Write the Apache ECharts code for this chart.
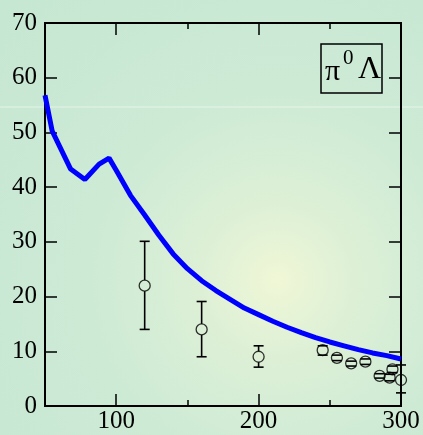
<!DOCTYPE html>
<html>
<head>
<meta charset="utf-8">
<script src="https://cdn.jsdelivr.net/npm/echarts@6/dist/echarts.min.js"></script>
<style>
  html, body { margin: 0; padding: 0; }
  #chart { width: 423px; height: 435px; }
</style>
</head>
<body>
<div id="chart"></div>
<script>
// theory curve
var curveX = [50, 55, 68, 78, 88, 95, 100, 110, 120, 130, 140, 150, 160, 170, 180, 190, 200, 210, 220, 230, 240, 250, 260, 270, 280, 290, 300];
var curveY = [56.8, 50.3, 43.3, 41.4, 44.2, 45.3, 43.1, 38.5, 34.9, 31.2, 27.8, 25.1, 22.9, 21.1, 19.5, 17.9, 16.7, 15.5, 14.4, 13.4, 12.5, 11.7, 11.0, 10.3, 9.7, 9.2, 8.6];
// measured points
var ptX  = [120, 160, 200, 245, 255, 265, 275, 285, 292, 294, 300];
var ptY  = [22.0, 14.0, 9.0, 10.2, 8.8, 7.8, 8.1, 5.5, 5.2, 6.7, 4.75];
var ptLo = [14.0, 9.0, 7.1, 9.3, 8.3, 7.3, 7.6, 5.1, 4.6, 6.1, 2.4];
var ptHi = [30.1, 19.1, 11.0, 11.0, 9.3, 8.2, 8.6, 5.9, 5.8, 7.3, 7.5];
var xLabels = [100, 200, 300];
var xMinor = [150, 250];

var serif = '"Liberation Serif", "Times New Roman", Times, "DejaVu Serif", serif';
var chart = echarts.init(document.getElementById('chart'));

var lineData = curveX.map(function (x, i) { return [x, curveY[i]]; });
var ptData = ptX.map(function (x, i) { return [x, ptY[i]]; });
var errData = ptX.map(function (x, i) { return [x, ptLo[i], ptHi[i], ptY[i]]; });

function renderErr(params, api) {
    var x = api.value(0);
    var c = api.coord([x, api.value(3)]);
    var lo = api.coord([x, api.value(1)]);
    var hi = api.coord([x, api.value(2)]);
    var r = 5.5, w = 5;
    var st = { stroke: '#000', lineWidth: 1.6 };
    var kids = [];
    if (hi[1] < c[1] - r) kids.push({ type: 'line', shape: { x1: c[0], y1: hi[1], x2: c[0], y2: c[1] - r }, style: st });
    if (lo[1] > c[1] + r) kids.push({ type: 'line', shape: { x1: c[0], y1: c[1] + r, x2: c[0], y2: lo[1] }, style: st });
    kids.push({ type: 'line', shape: { x1: c[0] - w, y1: hi[1], x2: c[0] + w, y2: hi[1] }, style: st });
    kids.push({ type: 'line', shape: { x1: c[0] - w, y1: lo[1], x2: c[0] + w, y2: lo[1] }, style: st });
    return { type: 'group', children: kids };
}

var axisLineStyle = { show: true, lineStyle: { color: '#000', width: 2 } };

function xAx(pos, ticks, len, labels) {
    return {
        type: 'value', position: pos, min: 50, max: 300, interval: 50,
        axisLine: axisLineStyle,
        splitLine: { show: false },
        axisTick: { show: true, inside: true, length: len, customValues: ticks, lineStyle: { color: '#000', width: 1.5 } },
        axisLabel: labels ? { show: true, customValues: xLabels, color: '#000', fontFamily: serif, fontSize: 25, margin: 3 } : { show: false }
    };
}

function yAx(pos, labels) {
    return {
        type: 'value', position: pos, min: 0, max: 70, interval: 10,
        axisLine: axisLineStyle,
        splitLine: { show: false },
        axisTick: { show: true, inside: true, length: 12, lineStyle: { color: '#000', width: 1.5 } },
        axisLabel: labels ? { show: true, color: '#000', fontFamily: serif, fontSize: 25, margin: 8 } : { show: false }
    };
}

option = {
    backgroundColor: new echarts.graphic.RadialGradient(0.655, 0.644, 0.9, [
        { offset: 0, color: '#f0f7d6' },
        { offset: 0.2, color: '#ddf0d6' },
        { offset: 0.5, color: '#cdead5' },
        { offset: 1, color: '#c6e7d2' }
    ]),
    animation: false,
    grid: { left: 45, right: 22, top: 23, bottom: 29 },
    xAxis: [
        xAx('bottom', xLabels, 12, true),
        xAx('bottom', xMinor, 6, false),
        xAx('top', xLabels, 12, false),
        xAx('top', xMinor, 6, false)
    ],
    yAxis: [yAx('left', true), yAx('right', false)],
    graphic: [
        { type: 'line', z: -10, shape: { x1: 0, y1: 107, x2: 423, y2: 107 }, style: { stroke: 'rgba(255,255,255,0.25)', lineWidth: 2 } },
        { type: 'rect', shape: { x: 321, y: 44, width: 61, height: 49 }, style: { fill: 'transparent', stroke: '#000', lineWidth: 1.5 } },
        { type: 'text', x: 325, y: 72, style: { text: 'π', fontFamily: serif, fontSize: 30, fill: '#000', verticalAlign: 'middle' } },
        { type: 'text', x: 343, y: 58, style: { text: '0', fontFamily: serif, fontSize: 21, fill: '#000', verticalAlign: 'middle' } },
        { type: 'text', x: 358, y: 70, style: { text: 'Λ', fontFamily: serif, fontSize: 32, fill: '#000', verticalAlign: 'middle' } }
    ],
    series: [
        {
            type: 'line', data: lineData, showSymbol: false, symbol: 'none',
            lineStyle: { color: '#0000ff', width: 5 }, z: 3
        },
        {
            type: 'custom', data: errData, renderItem: renderErr, z: 4,
            encode: { x: 0, y: [1, 2] }
        },
        {
            type: 'scatter', data: ptData, symbol: 'circle', symbolSize: 11, z: 5,
            itemStyle: { color: 'rgba(0,0,0,0)', borderColor: '#000', borderWidth: 1.3 }
        }
    ]
};

chart.setOption(option);
</script>
</body>
</html>
